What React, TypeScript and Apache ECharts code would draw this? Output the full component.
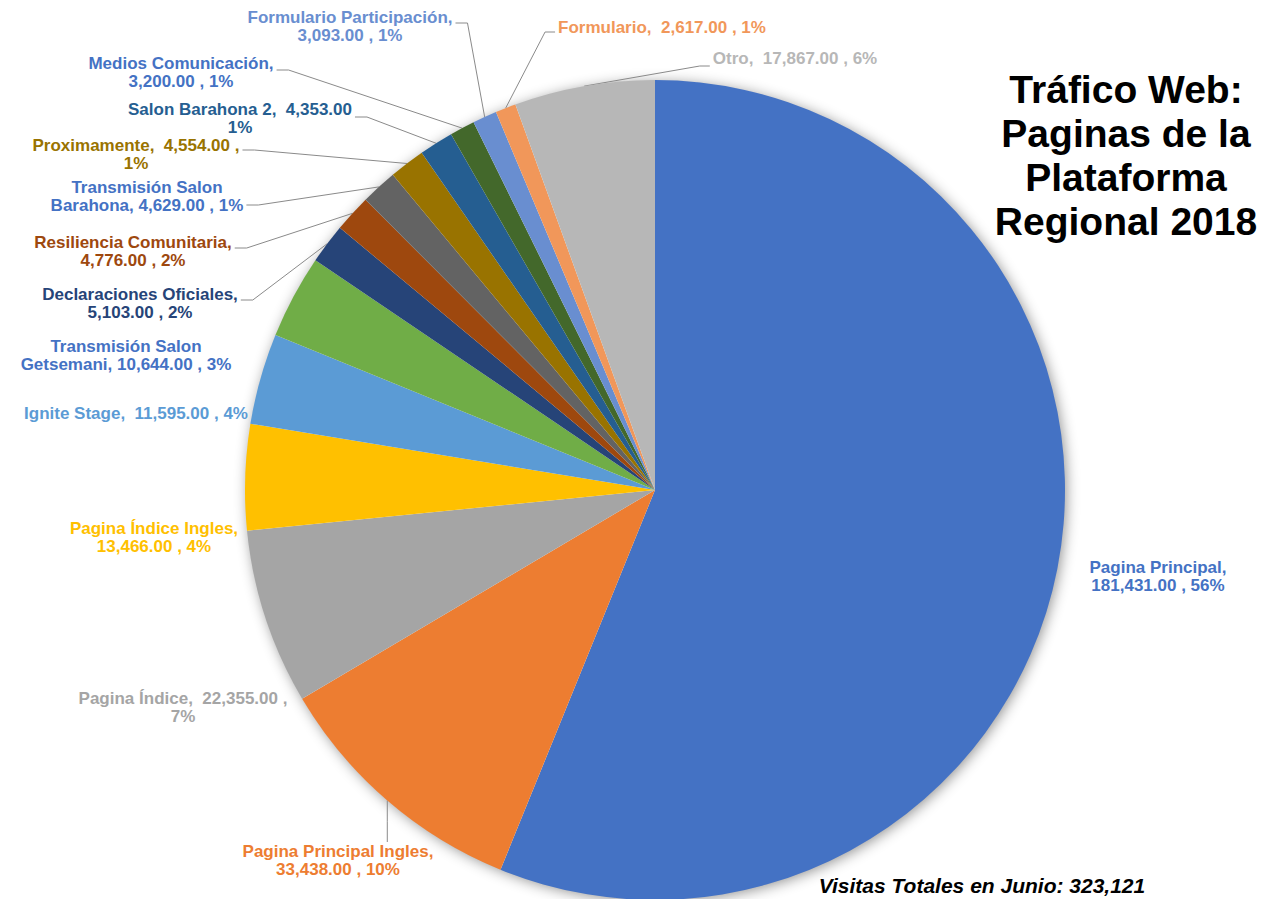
import React, { useEffect, useRef } from "react";
import * as echarts from "echarts";

// ---- data ----
const categories = [
  "Pagina Principal",
  "Pagina Principal Ingles",
  "Pagina Índice",
  "Pagina Índice Ingles",
  "Ignite Stage",
  "Transmisión Salon Getsemani",
  "Declaraciones Oficiales",
  "Resiliencia Comunitaria",
  "Transmisión Salon Barahona",
  "Proximamente",
  "Salon Barahona 2",
  "Medios Comunicación",
  "Formulario Participación",
  "Formulario",
  "Otro",
];
const visits = [181431, 33438, 22355, 13466, 11595, 10644, 5103, 4776, 4629, 4554, 4353, 3200, 3093, 2617, 17867];
const titleLines = ["Tráfico Web:", "Paginas de la", "Plataforma", "Regional 2018"];
const footnote = "Visitas Totales en Junio: 323,121";

// ---- styles ----
const sliceColors = [
  "#4472C4", "#ED7D31", "#A5A5A5", "#FFC000", "#5B9BD5", "#70AD47", "#264478", "#9E480E",
  "#636363", "#997300", "#255E91", "#43682B", "#698ED0", "#F1975A", "#B7B7B7",
];
const labelColors = [
  "#4472C4", "#ED7D31", "#A5A5A5", "#FFC000", "#5B9BD5", "#4472C4", "#264478", "#9E480E",
  "#4472C4", "#997300", "#255E91", "#4472C4", "#698ED0", "#F1975A", "#B7B7B7",
];
// how each label text wraps
const labelBreaks = ["name", "name", "pct", "name", "one", "split", "name", "name", "split", "pct", "pctNoComma", "name", "name", "one", "one"];
// label block centres
const labelCenters: number[][] = [
  [1158, 576], [338, 860], [183, 707], [154, 537], [136, 413], [126, 355], [140, 303], [133, 251],
  [147, 196], [136, 154], [240, 118], [181, 72], [350, 26], [662, 27], [795, 58],
];
// leader line: side of the label it attaches to, and y offset from label centre
const lineSide: (string | null)[] = [null, "top", null, null, null, null, "right", "right", "right", "right", "right", "right", "right", "left", "left"];
const lineDy = [0, 0, 0, 0, 0, 0, -3, -3, 9, -4, -1, -2, -3, 5, 8];

const FONT = "'Liberation Sans', Arial, sans-serif";

const fmtVal = (v: number) =>
  v.toLocaleString("en-US", { minimumFractionDigits: 2, maximumFractionDigits: 2 });

function labelText(i: number, pct: number): string {
  const name = categories[i];
  const val = fmtVal(visits[i]);
  switch (labelBreaks[i]) {
    case "name":
      return `${name},\n${val} , ${pct}%`;
    case "one":
      return `${name},  ${val} , ${pct}%`;
    case "split": {
      const w = name.split(" ");
      return `${w.slice(0, 2).join(" ")}\n${w.slice(2).join(" ")}, ${val} , ${pct}%`;
    }
    case "pct":
      return `${name},  ${val} ,\n${pct}%`;
    default:
      return `${name},  ${val}\n${pct}%`;
  }
}

export default function App() {
  const ref = useRef<HTMLDivElement>(null);
  useEffect(() => {
    document.body.style.margin = "0";
    const chart = echarts.init(ref.current!, null, { renderer: "svg" });
    const data = categories.map((name, i) => ({
      name,
      value: visits[i],
      itemStyle: { color: sliceColors[i] },
      label: { color: labelColors[i] },
      labelLine: { show: lineSide[i] != null },
    }));
    chart.setOption({
      animation: false,
      backgroundColor: "#ffffff",
      graphic: [
        {
          type: "circle",
          z: -10,
          shape: { cx: 655, cy: 490, r: 409 },
          style: { fill: "#ffffff", shadowBlur: 14, shadowColor: "rgba(0,0,0,0.45)", shadowOffsetX: 2, shadowOffsetY: 2 },
          silent: true,
        },
        {
          type: "text",
          x: 1126,
          y: 67,
          style: {
            text: titleLines.join("\n"),
            textAlign: "center",
            textVerticalAlign: "top",
            fontFamily: FONT,
            fontWeight: "bold",
            fontSize: 39,
            lineHeight: 44,
            fill: "#000000",
          },
        },
        {
          type: "text",
          x: 982,
          y: 885,
          style: {
            text: footnote,
            textAlign: "center",
            textVerticalAlign: "middle",
            fontFamily: FONT,
            fontWeight: "bold",
            fontStyle: "italic",
            fontSize: 21,
            fill: "#000000",
          },
        },
      ],
      series: [
        {
          type: "pie",
          center: [655, 490],
          radius: 410,
          startAngle: 90,
          clockwise: true,
          avoidLabelOverlap: false,
          percentPrecision: 0,
          itemStyle: { borderWidth: 0 },
          emphasis: { disabled: true },
          data,
          label: {
            show: true,
            position: "outside",
            fontFamily: FONT,
            fontWeight: "bold",
            fontSize: 17,
            lineHeight: 18,
            align: "center",
            formatter: (p: any) => labelText(p.dataIndex, p.percent),
          },
          labelLine: {
            show: true,
            length: 10,
            length2: 10,
            lineStyle: { color: "#8a8a8a", width: 1 },
          },
          labelLayout: (p: any) => {
            const i = p.dataIndex;
            const [cx, cy] = labelCenters[i];
            const w = p.labelRect.width;
            const h = p.labelRect.height;
            const out: any = { x: cx, y: cy, align: "center", verticalAlign: "middle" };
            const side = lineSide[i];
            if (side && p.labelLinePoints) {
              const edge = p.labelLinePoints[0];
              let pts: number[][];
              if (side === "top") {
                const top = cy - h / 2;
                pts = [edge, [edge[0], (edge[1] + top) / 2], [edge[0], top]];
              } else if (side === "right") {
                const ex = cx + w / 2 + 3;
                const ey = cy + lineDy[i];
                pts = [edge, [ex + 12, ey], [ex, ey]];
              } else {
                const ex = cx - w / 2 - 3;
                const ey = cy + lineDy[i];
                pts = [edge, [ex - 10, ey], [ex, ey]];
              }
              out.labelLinePoints = pts;
            }
            return out;
          },
        },
      ],
    });
    return () => chart.dispose();
  }, []);
  return <div ref={ref} style={{ position: "absolute", left: 0, top: 0, width: 1268, height: 899 }} />;
}
